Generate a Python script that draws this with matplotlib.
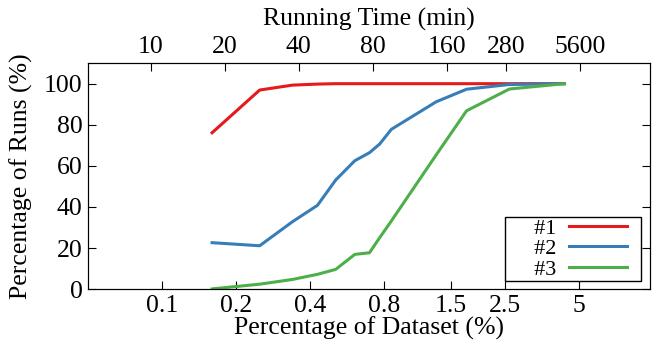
import matplotlib.pyplot as plt
from matplotlib.ticker import NullLocator
from matplotlib.lines import Line2D
from matplotlib.legend_handler import HandlerLine2D

plt.rcParams['font.family'] = ['Liberation Serif', 'DejaVu Serif']
plt.rcParams['font.size'] = 18.5

# data
pct = [0.16, 0.25, 0.34, 0.43, 0.51, 0.61, 0.70, 0.77, 0.86, 1.31, 1.74, 2.6, 4.36]
run1 = [76.1, 96.9, 99.3, 99.8, 100, 100, 100, 100, 100, 100, 100, 100, 100]
run2 = [22.6, 21.1, 32.8, 40.8, 53.1, 62.5, 66.4, 70.6, 77.8, 91.2, 97.3, 99.6, 100]
run3 = [0.1, 2.4, 4.7, 7.2, 9.6, 16.9, 17.7, 25.0, 33.2, 65.4, 86.8, 97.4, 100]

bottom_ticks = [0.1, 0.2, 0.4, 0.8, 1.5, 2.5, 5]
bottom_labels = ['0.1', '0.2', '0.4', '0.8', '1.5', '2.5', '5']
top_ticks = [10, 20, 40, 80, 160, 280, 560]
top_labels = ['10', '20', '40', '80', '160', '280', '5600']

fig = plt.figure(figsize=(6.57, 3.45), dpi=100)
ax = fig.add_axes([0.134, 0.162, 0.855, 0.655])

ax.plot(pct, run1, color='#e41a1c', lw=2.2, label='     #1')
ax.plot(pct, run2, color='#377eb8', lw=2.2, label='     #2')
ax.plot(pct, run3, color='#4daf4a', lw=2.2, label='     #3')

ax.set_xscale('log')
ax.set_xlim(0.05, 9.7)
ax.set_ylim(0, 110)
ax.set_xticks(bottom_ticks)
ax.set_xticklabels(bottom_labels)
ax.xaxis.set_minor_locator(NullLocator())
ax.set_yticks([0, 20, 40, 60, 80, 100])
ax.tick_params(direction='in', length=6, top=False, right=True, pad=4)
ax.set_xlabel('Percentage of Dataset (%)', labelpad=0)
ax.set_ylabel('Percentage of Runs (%)', labelpad=8)

# top axis: running time
k = 110.9
ax2 = ax.twiny()
ax2.set_xscale('log')
ax2.set_xlim(0.05 * k, 9.7 * k)
ax2.set_xticks(top_ticks)
ax2.set_xticklabels(top_labels)
ax2.xaxis.set_minor_locator(NullLocator())
ax2.tick_params(direction='in', length=6, pad=4)
ax2.set_xlabel('Running Time (min)', labelpad=7)

# handle line inset from both sides of its box
leg = ax.legend(loc='lower right', markerfirst=False, fancybox=False,
                edgecolor='black', framealpha=1, handlelength=3.78,
                borderpad=0.05, labelspacing=0.0, handletextpad=0.0,
                fontsize=16, borderaxespad=0, bbox_to_anchor=(0.985, 0.037),
                numpoints=2, handler_map={Line2D: HandlerLine2D(marker_pad=0.585)})
leg.get_frame().set_linewidth(1.0)

plt.savefig('out.png', dpi=100)
